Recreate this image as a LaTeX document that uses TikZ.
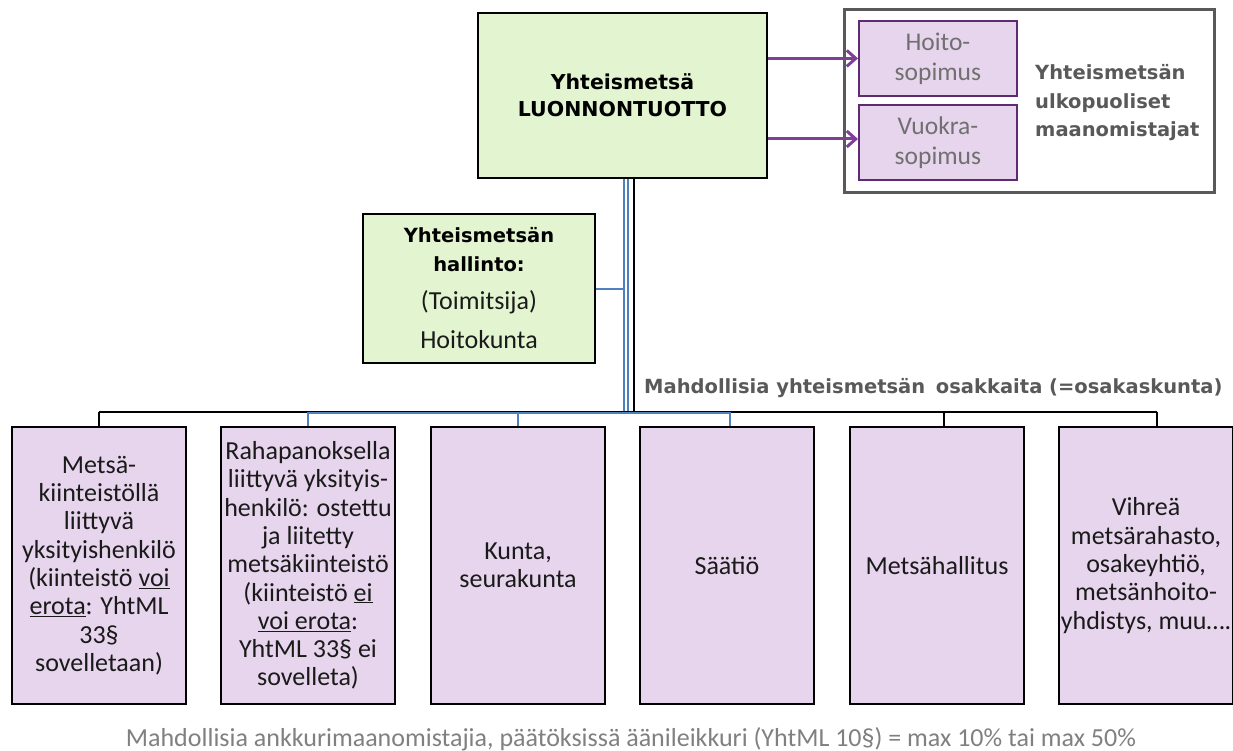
\documentclass[tikz,border=0pt]{standalone}
\usepackage{fontspec}
\setmainfont{Carlito}
\newfontfamily\dvs{DejaVu Sans}
\usetikzlibrary{arrows.meta}
\definecolor{gfill}{HTML}{E3F5D0}
\definecolor{pfill}{HTML}{E6D5EC}
\definecolor{pline}{HTML}{5E2A72}
\definecolor{parrow}{HTML}{7F3F98}
\definecolor{bl}{HTML}{4F81BD}
\definecolor{gtx}{HTML}{595959}
\definecolor{ltx}{HTML}{707070}
\definecolor{ftx}{HTML}{808080}
\definecolor{txt}{HTML}{1A1A1A}
\begin{document}
\begin{tikzpicture}[x=1pt,y=-1pt,
  greenbox/.style={draw=black, line width=2pt, fill=gfill, inner sep=0pt, align=center, anchor=north west},
  memberbox/.style={draw=black, line width=2pt, fill=pfill, minimum width=174pt, minimum height=277pt,
    inner sep=0pt, align=center, anchor=north west, text=txt, font=\fontsize{26}{28.3}\selectfont},
  contractbox/.style={draw=pline, line width=1.8pt, fill=pfill, minimum width=158pt, minimum height=75pt,
    anchor=north west, inner sep=0pt, align=center, text=ltx, font=\fontsize{25.5}{30}\selectfont},
  boldlab/.style={text=gtx, inner sep=0pt, font=\dvs\bfseries\fontsize{19.5}{28.5}\selectfont},
  blk/.style={draw=black, line width=2pt},
  blu/.style={draw=bl, line width=2pt},
  purparrow/.style={draw=parrow, line width=3pt, -{Straight Barb[length=9pt,width=16pt,line width=3pt]}}
]
\useasboundingbox (0,0) rectangle (1233,751);
% top
\node[greenbox, minimum width=289pt, minimum height=165pt, font=\dvs\bfseries\fontsize{20.5}{27}\selectfont] (main) at (477,12) {Yhteismetsä\\LUONNONTUOTTO};
\node[draw=gtx, line width=3pt, minimum width=370pt, minimum height=183pt, anchor=north west, inner sep=0pt] (outer) at (843,8) {};
\node[contractbox] (hoito) at (858,20) {Hoito-\\sopimus};
\node[contractbox] (vuokra) at (858,104) {Vuokra-\\sopimus};
\node[boldlab, anchor=west, align=left] (outlab) at (1035,103) {Yhteismetsän\\ulkopuoliset\\maanomistajat};
\draw[purparrow] (main.east |- hoito.west) -- (hoito.west);
\draw[purparrow] (main.east |- 0,139) -- (vuokra.west |- 0,139);
% administration
\node[greenbox, minimum width=232pt, minimum height=149pt, text=black, font=\dvs\bfseries\fontsize{19.5}{29}\selectfont] (hal) at (362,213)
  {Yhteismetsän\\hallinto:\\[9pt]{\rmfamily\mdseries\fontsize{26}{29}\selectfont\color{txt}(Toimitsija)}\\[10pt]{\rmfamily\mdseries\fontsize{26}{29}\selectfont\color{txt}Hoitokunta}};
% members
\node[memberbox] (b1) at (11,426) {Metsä-\\kiinteistöllä\\liittyvä\\yksityishenkilö\\(kiinteistö \underline{voi}\\\underline{erota}: YhtML\\33§\\sovelletaan)};
\node[memberbox] (b2) at (220,426) {Rahapanoksella\\liittyvä yksityis-\\henkilö: ostettu\\ja liitetty\\metsäkiinteistö\\(kiinteistö \underline{ei}\\\underline{voi erota}:\\YhtML 33§ ei\\sovelleta)};
\node[memberbox] (b3) at (430,426) {Kunta,\\seurakunta};
\node[memberbox] (b4) at (639,426) {Säätiö};
\node[memberbox] (b5) at (849,426) {Metsähallitus};
\node[memberbox] (b6) at (1058,426) {Vihreä\\metsärahasto,\\osakeyhtiö,\\metsänhoito-\\yhdistys, muu….};
\node[boldlab, anchor=west] (osak) at (644,388) {Mahdollisia yhteismetsän\hspace{0.55em}osakkaita (=osakaskunta)};
% trunk and bus
\coordinate (bus) at (633,412);
\draw[blu] ([xshift=1pt]main.south) -- ([xshift=1pt]main.south |- bus);
\draw[blu] ([xshift=5.5pt]main.south) -- ([xshift=5.5pt]main.south |- bus);
\draw[blk] ([xshift=11.5pt]main.south) -- ([xshift=11.5pt]main.south |- bus);
\draw[blu] (hal.east |- 0,289) -- ([xshift=1pt]main.south |- 0,289);
\draw[blk] (b1.north |- bus) -- ([xshift=11pt]b6.north |- bus);
\draw[blu] ([yshift=-0.6pt]b2.north |- bus) -- ([xshift=3pt,yshift=-0.6pt]b4.north |- bus);
\draw[blk] (b1.north) -- (b1.north |- bus);
\draw[blu] (b2.north) -- (b2.north |- bus);
\draw[blu] (b3.north) -- (b3.north |- bus);
\draw[blu] ([xshift=3pt]b4.north) -- ([xshift=3pt]b4.north |- bus);
\draw[blk] ([xshift=7pt]b5.north) -- ([xshift=7pt]b5.north |- bus);
\draw[blk] ([xshift=11pt]b6.north) -- ([xshift=11pt]b6.north |- bus);
% footer
\node[text=ftx, inner sep=0pt, font=\fontsize{26}{28}\selectfont] (foot) at (631,739) {Mahdollisia ankkurimaanomistajia, päätöksissä äänileikkuri (YhtML 10§) = max 10\% tai max 50\%};
\end{tikzpicture}
\end{document}
